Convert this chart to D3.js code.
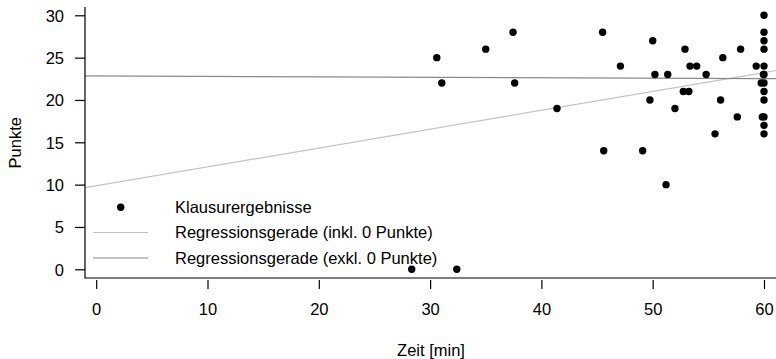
<!DOCTYPE html>
<html>
<head>
<meta charset="utf-8">
<script src="https://cdn.jsdelivr.net/npm/d3@7"></script>
<style>
  html, body { margin: 0; padding: 0; background: #fff; }
  svg { display: block; font-family: "Liberation Sans", Arial, sans-serif; }
</style>
</head>
<body>
<svg id="chart" width="776" height="359"></svg>
<script>
// ---- data ----
const zeit = [
  28.35, 32.4,
  30.6, 31.05, 35.0, 37.45, 37.6, 41.4, 45.5, 45.6, 47.1, 49.1,
  50.0, 49.75, 50.2, 51.2, 51.35, 52.0, 52.9, 52.75, 53.25, 53.35, 53.95,
  54.8, 55.6, 56.1, 56.3, 57.6, 57.9, 59.3,
  60, 60, 60, 60, 60, 59.95, 60, 59.75, 60, 60, 60, 59.85, 60, 60, 60
];
const punkte = [
  0, 0,
  25, 22, 26, 28, 22, 19, 28, 14, 24, 14,
  27, 20, 23, 10, 23, 19, 26, 21, 21, 24, 24,
  23, 16, 20, 25, 18, 26, 24,
  30, 28, 27, 26, 24, 23, 23, 22, 22, 21, 20, 18, 18, 17, 16
];
const xTicks = [0, 10, 20, 30, 40, 50, 60];
const yTicks = [0, 5, 10, 15, 20, 25, 30];
// regression lines: [intercept, slope]
const regInkl = [9.86, 0.223];
const regExkl = [22.83, -0.0052];
const legendLabels = ["Klausurergebnisse", "Regressionsgerade (inkl. 0 Punkte)", "Regressionsgerade (exkl. 0 Punkte)"];
const colInkl = "#c4c4c4";
const colExkl = "#8a8a8a";
const FS = 16.5;

// ---- layout ----
const svg = d3.select("#chart");
const plotL = 85, plotT = 7, plotB = 278, plotR = 800;
const x = d3.scaleLinear().domain([0, 60]).range([96.2, 764]);
const y = d3.scaleLinear().domain([0, 30]).range([269.3, 15.3]);

svg.append("defs").append("clipPath").attr("id", "clip")
  .append("rect").attr("x", plotL).attr("y", plotT)
  .attr("width", plotR - plotL).attr("height", plotB - plotT);

const plot = svg.append("g").attr("clip-path", "url(#clip)");

// regression lines
const x0 = x.invert(plotL), x1 = x.invert(plotR);
[[regInkl, colInkl], [regExkl, colExkl]].forEach(([c, col]) => {
  plot.append("line")
    .attr("x1", x(x0)).attr("y1", y(c[0] + c[1] * x0))
    .attr("x2", x(x1)).attr("y2", y(c[0] + c[1] * x1))
    .attr("stroke", col).attr("stroke-width", 1.2);
});

// points
plot.selectAll("circle.pt").data(zeit.map((v, i) => [v, punkte[i]]))
  .join("circle").attr("class", "pt")
  .attr("cx", d => x(d[0])).attr("cy", d => y(d[1]))
  .attr("r", 3.7).attr("fill", "#000");

// box (L)
svg.append("path")
  .attr("d", `M${plotL},${plotT}V${plotB}H776`)
  .attr("fill", "none").attr("stroke", "#000").attr("stroke-width", 1.2);

// axes
const xAxis = svg.append("g").attr("transform", "translate(0,280)")
  .call(d3.axisBottom(x).tickValues(xTicks).tickSize(9).tickFormat(d3.format("d")));
xAxis.select(".domain").remove();
xAxis.selectAll("line").attr("stroke", "#000").attr("stroke-width", 1.2);
xAxis.selectAll("text").attr("y", 35).attr("dy", 0).attr("font-size", FS)
  .attr("font-family", "Liberation Sans, Arial, sans-serif").attr("fill", "#000");

const yAxis = svg.append("g").attr("transform", `translate(${plotL},0)`)
  .call(d3.axisLeft(y).tickValues(yTicks).tickSize(10).tickPadding(11).tickFormat(d3.format("d")));
yAxis.select(".domain").remove();
yAxis.selectAll("line").attr("stroke", "#000").attr("stroke-width", 1.2);
yAxis.selectAll("text").attr("dy", "0.36em").attr("font-size", FS)
  .attr("font-family", "Liberation Sans, Arial, sans-serif").attr("fill", "#000");

// axis titles
svg.append("text").attr("x", 431).attr("y", 356).attr("text-anchor", "middle")
  .attr("font-size", FS).text("Zeit [min]");
svg.append("text").attr("transform", "translate(20.5,142.7) rotate(-90)")
  .attr("text-anchor", "middle").attr("font-size", FS).text("Punkte");

// legend
const legRows = [207.3, 232.5, 258];
const leg = svg.append("g");
leg.append("circle").attr("cx", 120.7).attr("cy", legRows[0]).attr("r", 3.7).attr("fill", "#000");
leg.append("line").attr("x1", 93).attr("x2", 148).attr("y1", legRows[1]).attr("y2", legRows[1])
  .attr("stroke", colInkl).attr("stroke-width", 1.2);
leg.append("line").attr("x1", 93).attr("x2", 148).attr("y1", legRows[2]).attr("y2", legRows[2])
  .attr("stroke", colExkl).attr("stroke-width", 1.2);
leg.selectAll("text").data(legendLabels).join("text")
  .attr("x", 175).attr("y", (d, i) => legRows[i]).attr("dy", "0.36em")
  .attr("font-size", FS).text(d => d);
</script>
</body>
</html>
